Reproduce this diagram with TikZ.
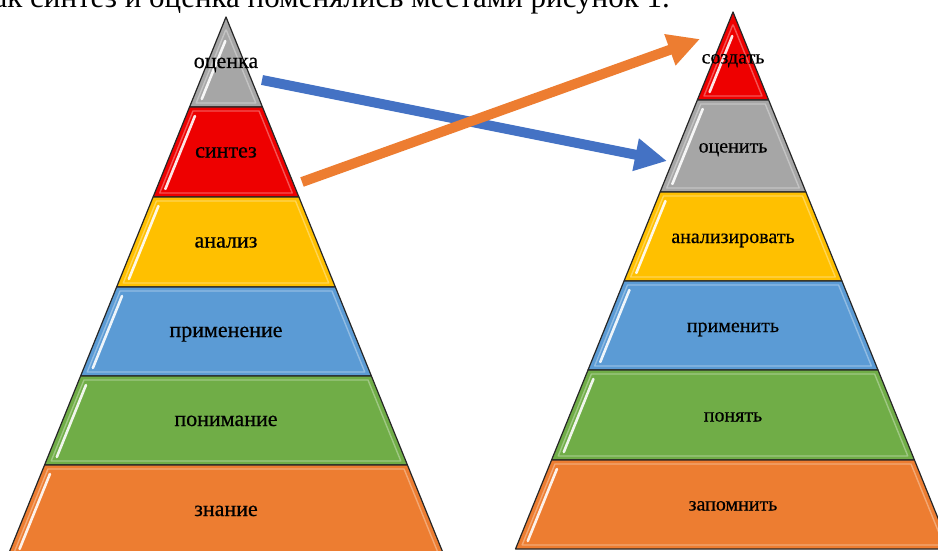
\documentclass[tikz,border=0pt]{standalone}
\usepackage{fontspec}
\setmainfont{Liberation Serif}
\newfontfamily\labfont[FakeBold=0.5]{Liberation Serif}
\usetikzlibrary{calc,arrows.meta}
\definecolor{pgray}{HTML}{A6A6A6}
\definecolor{pred}{HTML}{EE0000}
\definecolor{pyellow}{HTML}{FFC000}
\definecolor{pblue}{HTML}{5B9BD5}
\definecolor{pgreen}{HTML}{70AD47}
\definecolor{porange}{HTML}{ED7D31}
\definecolor{ablue}{HTML}{4472C4}
\definecolor{aorange}{HTML}{ED7D31}
\newcommand\pyrlayer[9]{%
 \pgfmathsetmacro\pyWt{0.405*(#3-#2)}%
 \pgfmathsetmacro\pyWb{0.405*(#4-#2)}%
 \pgfmathsetmacro\pyYi{max(#3+4,#2+13)}%
 \pgfmathsetmacro\pyYj{#4-4}%
 \pgfmathsetmacro\pyWi{max(0.405*(\pyYi-#2)-5,0)}%
 \pgfmathsetmacro\pyWj{0.405*(\pyYj-#2)-5}%
 \pgfmathsetmacro\pySa{max(#3+9,#2+24)}%
 \pgfmathsetmacro\pySb{#4-8}%
 \pgfmathsetmacro\pyXa{#1-0.405*(\pySa-#2)+9}%
 \pgfmathsetmacro\pyXb{#1-0.405*(\pySb-#2)+9}%
 \fill[#5] (#1-\pyWt,#3) -- (#1+\pyWt,#3) -- (#1+\pyWb,#4) -- (#1-\pyWb,#4) -- cycle;
 \draw[#5!45!white, line width=1.4pt, opacity=.6, line join=round] (#1-\pyWi,\pyYi) -- (#1+\pyWi,\pyYi) -- (#1+\pyWj,\pyYj) -- (#1-\pyWj,\pyYj) -- cycle;
 \draw[white, line width=2.6pt, line cap=round, opacity=.9] (\pyXa,\pySa) -- (\pyXb,\pySb);
 \draw[layeredge] (#1-\pyWt,#3) -- (#1+\pyWt,#3) -- (#1+\pyWb,#4) -- (#1-\pyWb,#4) -- cycle;
 \node[#8] (#6) at (#1,{(#3+#4)/2+#9}) {#7};
}
\begin{document}
\begin{tikzpicture}[x=1pt,y=-1pt,
  layeredge/.style={draw=black!85, line width=1.2pt, line join=round},
  labL/.style={font=\labfont\fontsize{22}{22}\selectfont, inner sep=0pt, anchor=base},
  labR/.style={font=\labfont\fontsize{20}{20}\selectfont, inner sep=0pt, anchor=base},
  bigarrow/.style={line width=10pt, -{Triangle[length=32pt,width=31pt]}}]
\useasboundingbox (0,0) rectangle (938,551);
\clip (0,0) rectangle (938,551);
\fill[white] (0,0) rectangle (938,551);
\node[anchor=base east, font=\fontsize{31}{31}\selectfont, inner sep=0pt] (caption) at (670,8) {как синтез и оценка поменялись местами рисунок 1.};
% left pyramid
\pyrlayer{226}{17}{17}{107}{pgray}{l1}{оценка}{labL}{6}
\pyrlayer{226}{17}{107}{197}{pred}{l2}{синтез}{labL}{5.5}
\pyrlayer{226}{17}{197}{287}{pyellow}{l3}{анализ}{labL}{5.5}
\pyrlayer{226}{17}{287}{376}{pblue}{l4}{применение}{labL}{5.5}
\pyrlayer{226}{17}{376}{465}{pgreen}{l5}{понимание}{labL}{5.5}
\pyrlayer{226}{17}{465}{557}{porange}{l6}{знание}{labL}{5}
% right pyramid
\pyrlayer{733}{12}{12}{100}{pred}{r1}{создать}{labR}{7.5}
\pyrlayer{733}{12}{100}{192}{pgray}{r2}{оценить}{labR}{6.5}
\pyrlayer{733}{12}{192}{281}{pyellow}{r3}{анализировать}{labR}{6.5}
\pyrlayer{733}{12}{281}{370}{pblue}{r4}{применить}{labR}{6.5}
\pyrlayer{733}{12}{370}{460}{pgreen}{r5}{понять}{labR}{6.5}
\pyrlayer{733}{12}{460}{549}{porange}{r6}{запомнить}{labR}{6}
% arrows
\coordinate (bs) at (262,80);
\coordinate (be) at (667,161);
\coordinate (os) at (302,182);
\coordinate (oe) at (700,39);
\draw[bigarrow, ablue] (bs) -- (be);
\draw[bigarrow, aorange] (os) -- (oe);
\end{tikzpicture}
\end{document}
